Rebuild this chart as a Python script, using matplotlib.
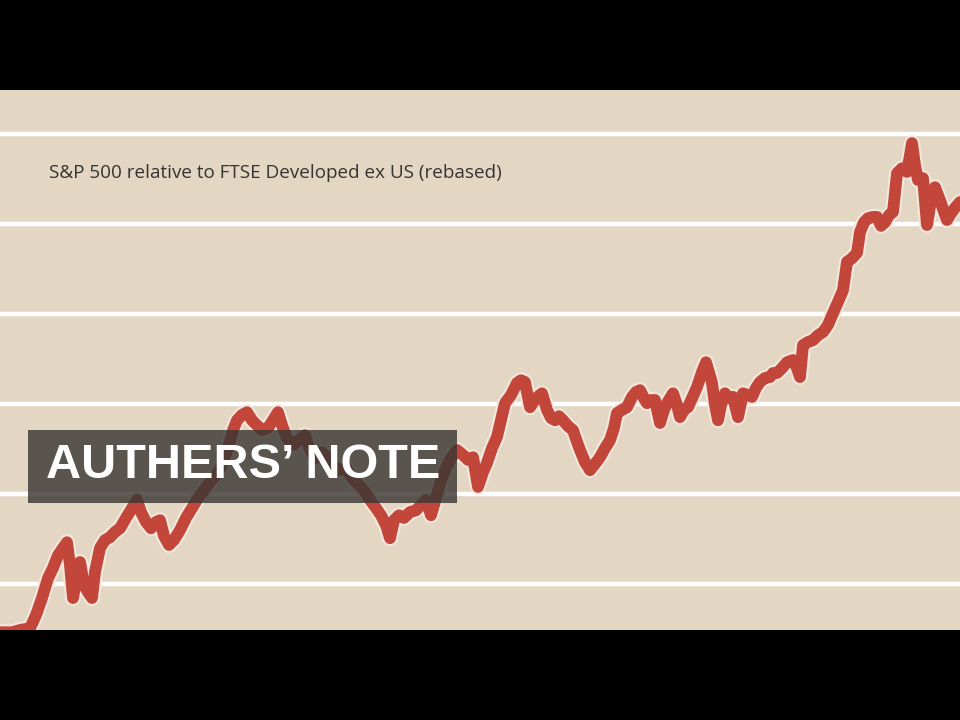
import matplotlib
matplotlib.use("Agg")
from matplotlib import pyplot as plt
from matplotlib import patheffects as pe
from matplotlib.patches import Rectangle

# time position (arbitrary units across the chart) and rebased relative value
t = [0.0, 1.2, 2.0, 3.0, 3.6, 4.2, 4.8, 5.3, 5.8, 6.3, 6.7, 7.0, 7.3, 7.7, 8.0, 8.4,
     8.8, 9.2, 9.5, 10.0, 10.5, 11.0, 11.5, 12.0, 12.6, 13.2, 13.7, 14.1, 14.6, 15.1,
     15.6, 16.0, 16.4, 16.9, 17.4, 18.0, 18.6, 19.2, 19.8, 20.4, 21.0, 21.6, 22.2,
     22.8, 23.3, 23.7, 24.2, 24.7, 25.2, 25.7, 26.2, 26.8, 27.3, 27.8, 28.2, 28.7,
     29.3, 29.9, 30.5, 31.0, 31.6, 32.2, 32.8, 33.4, 34.0, 34.6, 35.2, 35.8, 36.4,
     37.0, 37.6, 38.1, 38.6, 39.0, 39.4, 39.9, 40.4, 41.0, 41.6, 42.1, 42.6, 43.1,
     43.6, 44.1, 44.6, 45.1, 45.7, 46.3, 46.8, 47.3, 47.8, 48.3, 48.7, 49.2, 49.7,
     50.1, 50.5, 51.1, 51.7, 52.1, 52.5, 53.0, 53.6, 54.2, 54.7, 55.1, 55.5, 55.9,
     56.3, 56.8, 57.3, 57.7, 58.0, 58.5, 59.0, 59.5, 60.0, 60.5, 61.0, 61.4, 61.7,
     62.2, 62.7, 63.2, 63.6, 64.0, 64.4, 64.7, 65.1, 65.5, 66.0, 66.4, 66.7, 67.3,
     67.7, 68.0, 68.4, 68.8, 69.2, 69.7, 70.2, 70.6, 70.9, 71.2, 71.5, 71.8, 72.1,
     72.5, 72.9, 73.3, 73.8, 74.3, 74.8, 75.2, 75.6, 76.0, 76.5, 77.0, 77.3, 77.7,
     78.2, 78.7, 79.3, 79.7, 80.0, 80.3, 80.8, 81.3, 81.8, 82.3, 82.8, 83.3, 83.8,
     84.3, 84.7, 85.2, 85.7, 86.0, 86.4, 86.8, 87.3, 87.7, 88.1, 88.5, 88.9, 89.3,
     89.7, 90.2, 90.7, 91.0, 91.2, 91.5, 91.8, 92.3, 92.7, 93.1, 93.5, 94.0, 94.4,
     94.7, 95.1, 95.5, 96.0]
rel = [29.3, 29.3, 29.8, 30.2, 33.1, 36.9, 41.3, 43.6, 46.4, 48.0, 49.3, 44.2, 36.9,
       42.0, 44.9, 39.8, 38.2, 36.9, 42.7, 48.0, 49.8, 50.4, 51.6, 52.4, 54.7, 56.9,
       58.7, 56.0, 53.8, 52.4, 53.8, 54.2, 50.7, 48.7, 49.8, 52.0, 54.7, 56.9, 59.1,
       60.9, 62.7, 64.2, 66.4, 70.2, 74.2, 76.4, 77.6, 78.2, 76.4, 75.3, 74.2, 74.7,
       76.4, 78.2, 75.3, 72.4, 70.9, 72.0, 73.1, 69.8, 68.0, 69.3, 68.0, 66.2, 65.3,
       65.8, 63.6, 62.2, 60.9, 58.7, 56.9, 55.3, 53.1, 50.2, 54.2, 55.3, 54.7, 56.0,
       56.4, 57.6, 58.7, 55.3, 59.1, 63.1, 65.8, 68.0, 69.8, 68.7, 67.6, 68.2, 61.6,
       64.9, 66.9, 70.2, 72.7, 76.4, 80.2, 82.0, 84.7, 85.3, 84.9, 79.3, 81.3, 82.4,
       78.7, 76.9, 76.4, 77.3, 76.4, 75.1, 74.2, 71.6, 69.8, 67.1, 65.3, 66.7, 68.2,
       70.2, 72.0, 74.7, 78.0, 78.7, 79.3, 81.6, 82.7, 83.1, 81.3, 80.2, 80.9, 80.9,
       75.8, 78.7, 80.2, 82.4, 79.8, 77.1, 78.7, 79.3, 81.3, 83.8, 87.1, 89.3, 87.1,
       84.7, 79.8, 76.4, 79.8, 82.4, 81.3, 81.6, 77.1, 82.4, 82.0, 81.6, 83.6, 84.9,
       85.8, 86.0, 86.9, 86.9, 88.0, 89.3, 89.8, 88.0, 86.0, 93.1, 93.8, 94.2, 95.3,
       96.0, 97.6, 100.2, 102.7, 105.3, 111.6, 112.4, 113.6, 118.2, 120.4, 121.3,
       121.6, 121.6, 119.6, 120.4, 122.0, 122.7, 131.3, 132.4, 131.6, 135.3, 138.0,
       133.1, 129.8, 130.2, 119.8, 125.3, 128.2, 125.3, 122.7, 120.9, 122.4, 123.6,
       124.9]

grid_levels = [40, 60, 80, 100, 120, 140]

title = "S&P 500 relative to FTSE Developed ex US (rebased)"
banner = "AUTHERS\u2019 NOTE"

bg = "#e3d6c3"
red = "#c2473a"

fig = plt.figure(figsize=(9.6, 7.2), dpi=100, facecolor="black")
ax = fig.add_axes([0, 90 / 720, 1, 540 / 720])
ax.set_facecolor(bg)

for g in grid_levels:
    ax.axhline(g, color="white", lw=3.2, zorder=1)

ax.plot(t, rel, color=red, lw=8.5, solid_joinstyle="round", solid_capstyle="round",
        zorder=3,
        path_effects=[pe.Stroke(linewidth=11.5, foreground="#f3e7de"), pe.Normal()])

ax.set_xlim(0, 96)
ax.set_ylim(29.8, 149.8)
ax.set_xticks([])
ax.set_yticks([])
for s in ax.spines.values():
    s.set_visible(False)

ax.text(49 / 960, (630 - 173) / 540, title, transform=ax.transAxes,
        fontsize=13.6, family="Open Sans", color="#363431", va="center", ha="left")

fig.patches.append(Rectangle((28 / 960, 217 / 720), 429 / 960, 73 / 720,
                             transform=fig.transFigure, facecolor="#3b3733",
                             alpha=0.82, edgecolor="none", zorder=5))
fig.text(243.5 / 960, 254 / 720, banner, fontsize=35, family="Liberation Sans",
         fontweight="bold", color="white", ha="center", va="center", zorder=6)

fig.savefig("out.png", dpi=100, facecolor=fig.get_facecolor())
